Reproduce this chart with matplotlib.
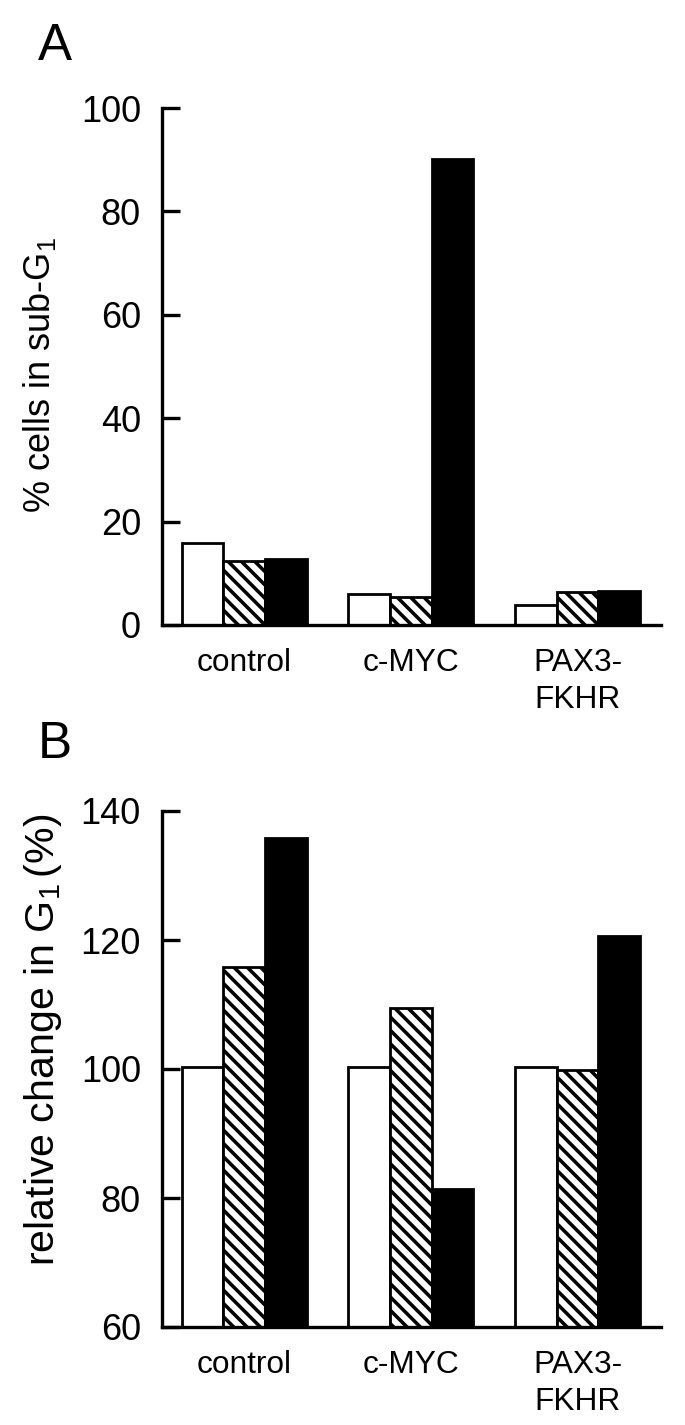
import numpy as np
from matplotlib import pyplot as plt

plt.rcParams['font.family'] = ['Liberation Sans', 'DejaVu Sans']
plt.rcParams['mathtext.fontset'] = 'custom'
plt.rcParams['mathtext.rm'] = 'Liberation Sans'
plt.rcParams['mathtext.it'] = 'Liberation Sans'
plt.rcParams['hatch.linewidth'] = 3.2
plt.rcParams['hatch.color'] = 'black'

# data
groups = ["control", "c-MYC", "PAX3-\nFKHR"]

subg1_white = [15.8, 5.9, 3.9]
subg1_hatch = [12.3, 5.5, 6.4]
subg1_black = [12.7, 90.2, 6.6]

g1_white = [100.3, 100.3, 100.3]
g1_hatch = [115.8, 109.5, 99.9]
g1_black = [135.8, 81.4, 120.6]

W, H, DPI = 685, 1425, 80


def panel(ax, white, hatch, black, ylim, yticks, base=0):
    x = np.arange(len(groups))
    w = 0.25
    ax.bar(x - w, np.array(white) - base, w, bottom=base, color='white',
           edgecolor='black', linewidth=2.5)
    ax.bar(x, np.array(hatch) - base, w, bottom=base, color='white',
           edgecolor='black', linewidth=2.5, hatch='\\\\')
    ax.bar(x + w, np.array(black) - base, w, bottom=base, color='black',
           edgecolor='black', linewidth=2.5)
    ax.set_xlim(-0.492, 2.5)
    ax.set_ylim(*ylim)
    ax.set_yticks(yticks)
    ax.set_xticks(x)
    ax.set_xticklabels(groups, fontsize=28.5, linespacing=1.3)
    ax.tick_params(axis='y', direction='in', length=16, width=3,
                   labelsize=32.5, pad=19)
    ax.tick_params(axis='x', length=0, pad=21)
    for s in ['top', 'right']:
        ax.spines[s].set_visible(False)
    for s in ['left', 'bottom']:
        ax.spines[s].set_linewidth(3)


fig = plt.figure(figsize=(W / DPI, H / DPI), dpi=DPI)

axA = fig.add_axes([162 / W, 1 - 625 / H, (661 - 162) / W, (625 - 108) / H])
panel(axA, subg1_white, subg1_hatch, subg1_black, (0, 100), range(0, 101, 20))
axA.text((40 - 162) / 499, (625 - 375) / 517, "% cells in sub-G$_1$",
         transform=axA.transAxes, rotation=90, ha='center', va='center',
         fontsize=32.5)

axB = fig.add_axes([162 / W, 1 - 1327 / H, (661 - 162) / W, (1327 - 811) / H])
panel(axB, g1_white, g1_hatch, g1_black, (60, 140), range(60, 141, 20), base=60)
axB.text((43 - 162) / 499, (1327 - 1040) / 516, "relative change in G$_1\\,$(%)",
         transform=axB.transAxes, rotation=90, ha='center', va='center',
         fontsize=37)

fig.text(55 / W, 1 - 47 / H, "A", ha='center', va='center', fontsize=46)
fig.text(55 / W, 1 - 745 / H, "B", ha='center', va='center', fontsize=46)

plt.savefig("out.png", dpi=DPI)
